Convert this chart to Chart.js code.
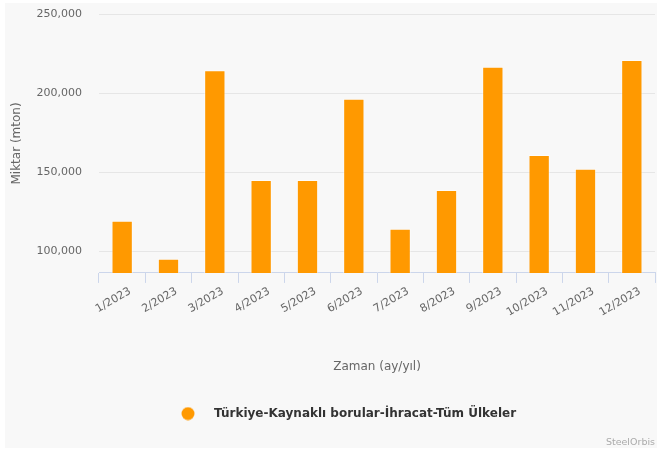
<!DOCTYPE html>
<html>
<head>
<meta charset="utf-8">
<script src="https://cdn.jsdelivr.net/npm/chart.js@4"></script>
<style>
  body { margin: 0; background: #fff; }
  #box { position: absolute; left: 5px; top: 3px; width: 652px; height: 445px; background: #f8f8f8; }
</style>
</head>
<body>
<div id="box"><canvas id="myChart"></canvas></div>
<script>
'use strict';
// chart data
let months = ['1/2023', '2/2023', '3/2023', '4/2023', '5/2023', '6/2023', '7/2023', '8/2023', '9/2023', '10/2023', '11/2023', '12/2023'];
let exportValues = [119300, 95200, 214400, 145100, 145100, 196400, 114200, 138800, 216700, 160800, 152100, 220900];
let yTicks = [100000, 150000, 200000, 250000];
let yMin = 86300;
let yMax = 250000;
let seriesName = 'Türkiye-Kaynaklı borular-İhracat-Tüm Ülkeler';

let orange = '#ff9900';
let fontFamily = '"DejaVu Sans", Verdana, sans-serif';

// legend marker: circle inside a wider image so the text sits further right
function legendMarker() {
    let c = document.createElement('canvas');
    c.width = 64;
    c.height = 14;
    let ctx = c.getContext('2d');
    ctx.fillStyle = orange;
    ctx.beginPath();
    ctx.arc(44, 7, 6.5, 0, Math.PI * 2);
    ctx.fill();
    return c;
}

function chartRender() {
    let ctx = document.getElementById('myChart').getContext('2d');
    let myChart = new Chart(ctx, {
        type: 'bar',
        data: {
            labels: months,
            datasets: [{
                label: seriesName,
                data: exportValues,
                backgroundColor: orange,
                borderColor: 'rgba(255,255,255,0.5)',
                borderWidth: 1,
                barPercentage: 0.46,
                categoryPercentage: 1
            }]
        },
        options: {
            responsive: true,
            maintainAspectRatio: false,
            animation: false,
            layout: { padding: { top: 11, left: 0, right: 2, bottom: 0 } },
            scales: {
                x: {
                    grid: { offset: true, drawOnChartArea: false, drawTicks: true, tickLength: 10, color: '#ccd6eb' },
                    border: { color: '#ccd6eb' },
                    ticks: { minRotation: 30, maxRotation: 30, autoSkip: false, padding: 2, labelOffset: 8, color: '#666', font: { family: fontFamily, size: 11 } },
                    title: { display: true, text: 'Zaman (ay/yıl)', color: '#666', font: { family: fontFamily, size: 12 }, padding: { top: 38, bottom: 26 } }
                },
                y: {
                    min: yMin,
                    max: yMax,
                    grid: { color: '#e6e6e6', drawTicks: true, tickLength: 17, tickColor: 'transparent' },
                    border: { display: false },
                    afterBuildTicks: function (scale) {
                        scale.ticks = yTicks.map(function (v) { return { value: v }; });
                    },
                    afterFit: function (scale) {
                        scale.width = 94;
                    },
                    ticks: {
                        padding: 0,
                        color: '#666',
                        font: { family: fontFamily, size: 11 },
                        callback: function (v) { return v.toLocaleString('en-US'); }
                    },
                    title: { display: true, text: 'Miktar (mton)', color: '#666', font: { family: fontFamily, size: 12 }, padding: { top: 5, bottom: 0 } }
                }
            },
            plugins: {
                tooltip: { enabled: false },
                legend: {
                    position: 'bottom',
                    labels: {
                        usePointStyle: true,
                        pointStyle: legendMarker(),
                        pointStyleWidth: 64,
                        boxHeight: 12,
                        padding: 8,
                        color: '#333',
                        font: { family: fontFamily, size: 12, weight: 'bold' }
                    }
                },
                subtitle: {
                    display: true,
                    position: 'bottom',
                    align: 'end',
                    text: 'SteelOrbis',
                    color: '#aaa',
                    font: { family: fontFamily, size: 9.5 },
                    padding: { top: 7, bottom: 0 }
                }
            }
        }
    });
}

chartRender();
</script>
</body>
</html>
